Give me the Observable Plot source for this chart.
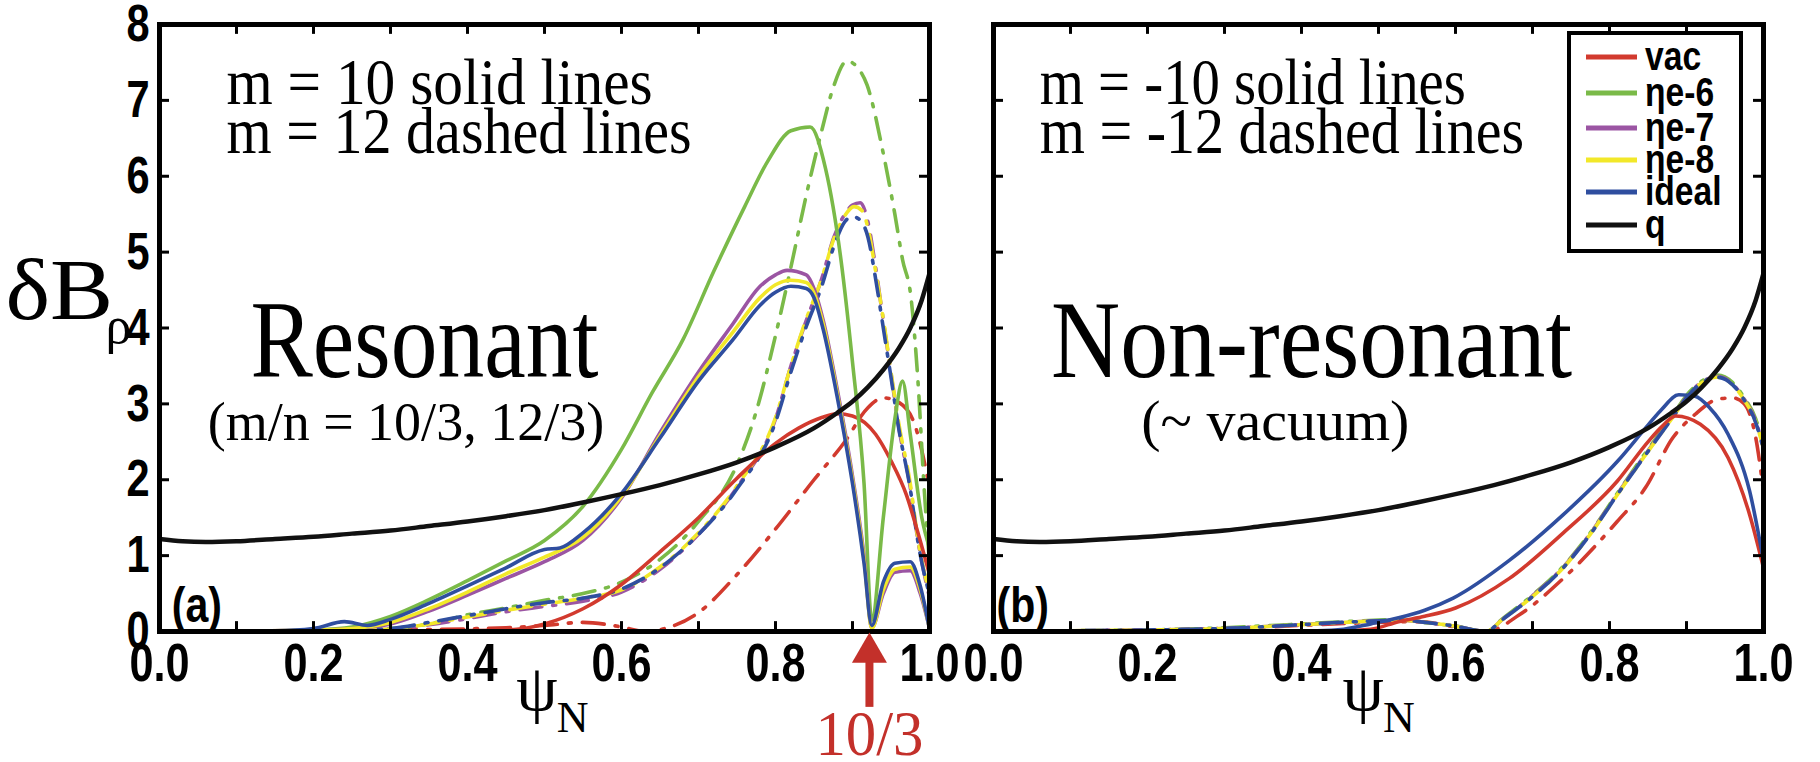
<!DOCTYPE html>
<html><head><meta charset="utf-8">
<script src="https://cdn.jsdelivr.net/npm/d3@7"></script>
<script src="https://cdn.jsdelivr.net/npm/@observablehq/plot@0.6"></script>
<style>
html,body{margin:0;padding:0;background:#fff;}
#wrap{position:relative;width:1820px;height:762px;overflow:hidden;background:#fff;}
#wrap > svg{position:absolute;top:0;}
#wrap svg{overflow:visible;}
</style></head><body><div id="wrap"></div>
<script>
// ---------- data ----------
const psiTicks = [0,0.1,0.2,0.3,0.4,0.5,0.6,0.7,0.8,0.9,1.0];
const psiLabels = [0,0.2,0.4,0.6,0.8,1.0];
const yTicks = [0,1,2,3,4,5,6,7,8];

const seriesNames = ["vac","ηe-6","ηe-7","ηe-8","ideal","q"];
const seriesColors = ["#d23a2e","#7aba48","#9b55a3","#f2e829","#2f4e9f","#111111"];

// safety factor q (same in both panels)
const qProfile = [[0,1.22],[0.03,1.19],[0.06,1.18],[0.1,1.19],[0.15,1.22],[0.2,1.25],[0.25,1.29],[0.3,1.33],[0.35,1.39],[0.4,1.45],[0.45,1.52],[0.5,1.6],[0.55,1.7],[0.6,1.81],[0.65,1.93],[0.7,2.07],[0.75,2.23],[0.8,2.43],[0.85,2.68],[0.88,2.88],[0.9,3.03],[0.92,3.22],[0.94,3.45],[0.96,3.73],[0.975,4.0],[0.99,4.37],[1.0,4.72]];

// panel (a) m = 10 solid
const aVac = [[0,0],[0.2,0.0],[0.35,0.01],[0.45,0.02],[0.5,0.1],[0.55,0.3],[0.6,0.62],[0.65,1.05],[0.7,1.5],[0.75,2.02],[0.8,2.48],[0.83,2.68],[0.86,2.82],[0.88,2.87],[0.9,2.84],[0.93,2.6],[0.95,2.25],[0.97,1.8],[0.985,1.3],[1.0,0.75]];
const aE6 = [[0,0],[0.1,0.0],[0.2,0.02],[0.25,0.06],[0.3,0.2],[0.35,0.42],[0.4,0.67],[0.45,0.93],[0.5,1.2],[0.55,1.65],[0.6,2.4],[0.64,3.15],[0.68,3.85],[0.72,4.75],[0.76,5.6],[0.79,6.2],[0.82,6.6],[0.845,6.65],[0.865,6.1],[0.885,4.9],[0.9,3.55],[0.915,1.95],[0.925,0.15],[0.94,1.5],[0.955,2.8],[0.965,3.3],[0.975,2.6],[0.99,1.5],[1.0,1.1]];
const aE7 = [[0,0],[0.2,0.02],[0.25,0.04],[0.3,0.1],[0.35,0.27],[0.4,0.48],[0.45,0.7],[0.5,0.92],[0.55,1.2],[0.6,1.76],[0.65,2.62],[0.7,3.42],[0.745,4.06],[0.78,4.55],[0.8,4.7],[0.815,4.76],[0.84,4.7],[0.85,4.52],[0.862,4.1],[0.88,3.2],[0.9,2.05],[0.915,1.0],[0.925,0.05],[0.94,0.5],[0.955,0.78],[0.975,0.8],[0.988,0.5],[1.0,0.04]];
const aE8 = [[0,0],[0.2,0.02],[0.25,0.04],[0.3,0.12],[0.35,0.3],[0.4,0.52],[0.45,0.76],[0.5,0.98],[0.55,1.24],[0.6,1.78],[0.65,2.58],[0.7,3.36],[0.745,3.95],[0.78,4.4],[0.8,4.57],[0.82,4.63],[0.84,4.6],[0.85,4.46],[0.862,4.05],[0.88,3.15],[0.9,2.0],[0.915,0.95],[0.925,0.04],[0.94,0.55],[0.955,0.82],[0.975,0.85],[0.988,0.55],[1.0,0.04]];
const aIdeal = [[0,0],[0.15,0.01],[0.2,0.04],[0.24,0.13],[0.27,0.08],[0.3,0.16],[0.35,0.37],[0.4,0.6],[0.45,0.84],[0.5,1.08],[0.52,1.1],[0.55,1.3],[0.6,1.82],[0.65,2.55],[0.7,3.3],[0.745,3.85],[0.78,4.3],[0.8,4.47],[0.82,4.55],[0.84,4.52],[0.85,4.4],[0.862,3.98],[0.88,3.1],[0.9,1.95],[0.915,0.9],[0.925,0.08],[0.94,0.65],[0.955,0.9],[0.975,0.92],[0.988,0.6],[1.0,0.03]];

// panel (a) m = 12 dashed
const aVacD = [[0,0],[0.3,0.02],[0.45,0.05],[0.5,0.08],[0.55,0.12],[0.6,0.06],[0.63,0.0],[0.66,0.05],[0.7,0.25],[0.75,0.75],[0.8,1.35],[0.85,2.0],[0.89,2.5],[0.92,2.95],[0.94,3.08],[0.96,3.02],[0.98,2.75],[1.0,1.9]];
const aE6D = [[0,0],[0.2,0.01],[0.3,0.04],[0.35,0.1],[0.4,0.22],[0.45,0.31],[0.5,0.41],[0.55,0.5],[0.6,0.65],[0.65,0.95],[0.7,1.45],[0.75,2.2],[0.775,2.9],[0.8,3.9],[0.82,4.8],[0.84,5.75],[0.86,6.6],[0.876,7.2],[0.893,7.52],[0.905,7.45],[0.919,7.2],[0.94,6.3],[0.955,5.5],[0.965,4.9],[0.976,4.4],[0.985,3.3],[0.993,1.9],[1.0,0.9]];
const aE7D = [[0,0],[0.2,0.01],[0.3,0.03],[0.35,0.09],[0.4,0.17],[0.45,0.26],[0.5,0.33],[0.55,0.4],[0.6,0.52],[0.65,0.82],[0.7,1.28],[0.75,1.9],[0.8,2.8],[0.82,3.5],[0.84,4.1],[0.86,4.65],[0.876,5.2],[0.89,5.5],[0.9,5.62],[0.91,5.65],[0.92,5.4],[0.93,4.8],[0.94,4.1],[0.95,3.4],[0.96,2.7],[0.975,1.9],[0.985,1.2],[1.0,0.45]];
const aE8D = [[0,0],[0.2,0.01],[0.3,0.03],[0.35,0.1],[0.4,0.19],[0.45,0.28],[0.5,0.36],[0.55,0.44],[0.6,0.55],[0.65,0.85],[0.7,1.3],[0.75,1.92],[0.8,2.82],[0.82,3.5],[0.84,4.12],[0.86,4.65],[0.876,5.18],[0.89,5.48],[0.902,5.6],[0.912,5.55],[0.92,5.32],[0.93,4.75],[0.94,4.12],[0.95,3.42],[0.96,2.75],[0.975,1.95],[0.985,1.22],[1.0,0.5]];
const aIdealD = [[0,0],[0.2,0.01],[0.3,0.04],[0.35,0.12],[0.4,0.21],[0.45,0.3],[0.5,0.38],[0.55,0.44],[0.6,0.56],[0.65,0.84],[0.7,1.28],[0.75,1.88],[0.8,2.76],[0.82,3.42],[0.84,4.02],[0.86,4.55],[0.876,5.08],[0.89,5.4],[0.9,5.47],[0.91,5.42],[0.92,5.2],[0.93,4.65],[0.94,4.0],[0.95,3.35],[0.96,2.68],[0.975,1.88],[0.985,1.18],[1.0,0.48]];

// panel (b) m = -10 solid
const bVac = [[0,0],[0.3,0.0],[0.45,0.01],[0.49,0.03],[0.526,0.13],[0.56,0.2],[0.6,0.31],[0.67,0.7],[0.74,1.3],[0.81,1.98],[0.85,2.5],[0.868,2.7],[0.886,2.84],[0.918,2.73],[0.954,2.29],[0.982,1.54],[1.0,0.84]];
const bIdeal = [[0,0],[0.3,0.0],[0.42,0.01],[0.455,0.03],[0.49,0.1],[0.526,0.18],[0.56,0.28],[0.597,0.44],[0.669,0.93],[0.74,1.54],[0.811,2.25],[0.85,2.72],[0.868,2.93],[0.89,3.12],[0.911,3.1],[0.93,2.95],[0.954,2.6],[0.982,1.85],[1.0,0.93]];

// panel (b) m = -12 dashed
const bVacD = [[0,0],[0.3,0.04],[0.5,0.12],[0.55,0.13],[0.6,0.06],[0.64,0.0],[0.683,0.22],[0.74,0.7],[0.81,1.45],[0.847,1.9],[0.882,2.55],[0.911,2.86],[0.94,3.06],[0.96,3.08],[0.975,3.0],[0.99,2.55],[1.0,1.85]];
const bE6D = [[0,0],[0.1,0.01],[0.2,0.02],[0.3,0.05],[0.4,0.1],[0.5,0.15],[0.53,0.16],[0.56,0.12],[0.6,0.07],[0.64,0.0],[0.66,0.16],[0.7,0.48],[0.74,0.86],[0.775,1.3],[0.81,1.82],[0.847,2.36],[0.882,2.85],[0.904,3.16],[0.92,3.3],[0.94,3.38],[0.96,3.28],[0.975,3.08],[0.99,2.8],[1.0,2.45]];
const bE7D = [[0,0],[0.1,0.01],[0.2,0.02],[0.3,0.04],[0.4,0.09],[0.5,0.14],[0.53,0.15],[0.56,0.12],[0.6,0.07],[0.64,0.0],[0.66,0.15],[0.7,0.47],[0.74,0.85],[0.775,1.29],[0.81,1.81],[0.847,2.34],[0.882,2.83],[0.904,3.14],[0.92,3.29],[0.94,3.36],[0.96,3.26],[0.975,3.06],[0.99,2.77],[1.0,2.42]];
const bE8D = [[0,0],[0.1,0.01],[0.2,0.02],[0.3,0.04],[0.4,0.09],[0.5,0.14],[0.53,0.15],[0.56,0.12],[0.6,0.07],[0.64,0.0],[0.66,0.15],[0.7,0.46],[0.74,0.84],[0.775,1.28],[0.81,1.8],[0.847,2.33],[0.882,2.82],[0.904,3.13],[0.92,3.28],[0.94,3.35],[0.96,3.25],[0.975,3.05],[0.99,2.76],[1.0,2.41]];
const bIdealD = [[0,0],[0.1,0.01],[0.2,0.02],[0.3,0.04],[0.4,0.09],[0.45,0.12],[0.5,0.14],[0.53,0.15],[0.56,0.12],[0.6,0.07],[0.625,0.02],[0.64,0.0],[0.66,0.15],[0.7,0.46],[0.74,0.84],[0.775,1.28],[0.81,1.8],[0.847,2.33],[0.882,2.82],[0.904,3.13],[0.92,3.28],[0.94,3.35],[0.96,3.25],[0.975,3.05],[0.99,2.75],[1.0,2.4]];

// annotation texts
const aNoteText = ["m = 10 solid lines","m = 12 dashed lines","Resonant","(m/n = 10/3, 12/3)","(a)"];
const bNoteText = ["m = -10 solid lines","m = -12 dashed lines","Non-resonant","(~ vacuum)","(b)"];
const resonance = {psi: 0.922, label: "10/3"};

// ---------- layout & drawing ----------
const SANS = "'Liberation Sans','Arial',sans-serif";
const SERIF = "'Liberation Serif','Times New Roman',Times,serif";
const RED = "#c3302a";
const DASH = "22,11,3,11";
const H = 762, MT = 24, MB = 131;
const wrap = document.getElementById("wrap");
const toRows = arr => arr.map(([psi, v]) => ({psi, v}));

// annotation placement (psi, value, font size, anchor, family) per text index
const aNoteLayout = [[0.087,6.95,66,"start","serif"],[0.087,6.30,66,"start","serif"],[0.344,3.36,110,"middle","serif"],[0.32,2.53,54,"middle","serif"],[0.016,0.12,50,"start","sans"]];
const bNoteLayout = [[0.06,6.95,66,"start","serif"],[0.06,6.30,66,"start","serif"],[0.413,3.36,110,"middle","serif"],[0.366,2.53,58,"middle","serif"],[0.004,0.12,50,"start","sans"]];
// horizontal squeeze factors for texts (glyphs of the original are condensed)
const squeezeRules = new Map([
  ["m = 10 solid lines", 0.9], ["m = 12 dashed lines", 0.88], ["m = -10 solid lines", 0.86], ["m = -12 dashed lines", 0.88],
  ["Resonant", 0.85], ["Non-resonant", 0.87], ["(a)", 0.82], ["(b)", 0.82], ["10/3", 0.95], ["δB", 1.1]
]);
psiLabels.forEach(d => squeezeRules.set(d.toFixed(1), 0.8));
yTicks.forEach(d => squeezeRules.set(String(d), 0.8));
seriesNames.forEach(d => squeezeRules.set(d, 0.84));

function solidLine(arr, color) {
  return Plot.line(toRows(arr), {x: "psi", y: "v", stroke: color, strokeWidth: 3.6, curve: "monotone-x"});
}
function dashLine(arr, color, offset) {
  return Plot.line(toRows(arr), {x: "psi", y: "v", stroke: color, strokeWidth: 3.6, curve: "monotone-x", strokeDasharray: DASH, strokeDashoffset: offset});
}
function noteMarks(texts, layout) {
  return texts.map((t, i) => {
    const [x, y, fs, anchor, fam] = layout[i];
    return Plot.text([t], {
      x: () => x, y: () => y, text: d => d, fontSize: fs, textAnchor: anchor, lineAnchor: "bottom",
      fontFamily: fam === "serif" ? SERIF : SANS, fontWeight: fam === "serif" ? "normal" : "bold", fill: "black"
    });
  });
}
function frameMarks(withYLabels) {
  const m = [
    Plot.ruleX(psiTicks, {x: d => d, y1: 0, y2: 0.13, stroke: "black", strokeWidth: 3}),
    Plot.ruleX(psiTicks, {x: d => d, y1: 8, y2: 7.87, stroke: "black", strokeWidth: 3}),
    Plot.ruleY(yTicks, {y: d => d, x1: 0, x2: 0.013, stroke: "black", strokeWidth: 3}),
    Plot.ruleY(yTicks, {y: d => d, x1: 1, x2: 0.987, stroke: "black", strokeWidth: 3}),
    Plot.frame({stroke: "black", strokeWidth: 5}),
    Plot.text(psiLabels, {x: d => d, y: 0, dy: 32, text: d => d.toFixed(1), fontSize: 54, fontWeight: "bold", fontFamily: SANS, lineAnchor: "middle", fill: "black"})
  ];
  if (withYLabels) m.push(Plot.text(yTicks, {x: 0, y: d => d, dx: -10, text: d => String(d), textAnchor: "end", fontSize: 52, fontWeight: "bold", fontFamily: SANS, lineAnchor: "middle", fill: "black"}));
  return m;
}
function psiLabel(cx) {
  return [
    Plot.text(["ψ"], {x: () => cx, y: () => -1.04, text: d => d, fontSize: 66, fontFamily: SERIF, textAnchor: "middle", lineAnchor: "bottom", fill: "black"}),
    Plot.text(["N"], {x: () => cx + 0.026, y: () => -1.32, text: d => d, fontSize: 44, fontFamily: SERIF, textAnchor: "start", lineAnchor: "bottom", fill: "black"})
  ];
}
function squeeze(node) {
  node.querySelectorAll("text").forEach(t => {
    const f = squeezeRules.get(t.textContent);
    if (f == null) return;
    const w = t.getComputedTextLength();
    t.setAttribute("textLength", (w * f).toFixed(1));
    t.setAttribute("lengthAdjust", "spacingAndGlyphs");
  });
}

const plotA = Plot.plot({
  width: 960, height: H, marginTop: MT, marginBottom: MB, marginLeft: 159, marginRight: 31,
  x: {domain: [0, 1], axis: null}, y: {domain: [0, 8], axis: null},
  style: {background: "transparent", overflow: "visible"},
  marks: [
    dashLine(aVacD, seriesColors[0], 0),
    dashLine(aE6D, seriesColors[1], 6),
    dashLine(aE7D, seriesColors[2], 14),
    dashLine(aE8D, seriesColors[3], 24),
    dashLine(aIdealD, seriesColors[4], 2),
    solidLine(aVac, seriesColors[0]),
    solidLine(aE6, seriesColors[1]),
    solidLine(aE7, seriesColors[2]),
    solidLine(aE8, seriesColors[3]),
    solidLine(aIdeal, seriesColors[4]),
    Plot.line(toRows(qProfile), {x: "psi", y: "v", stroke: seriesColors[5], strokeWidth: 4.5, curve: "monotone-x"}),
    ...frameMarks(true),
    ...noteMarks(aNoteText, aNoteLayout),
    ...psiLabel(0.49),
    Plot.text(["δB"], {x: () => -0.2, y: () => 4.12, text: d => d, fontSize: 86, fontFamily: SERIF, textAnchor: "start", lineAnchor: "bottom", fill: "black"}),
    Plot.text(["ρ"], {x: () => -0.07, y: () => 3.8, text: d => d, fontSize: 52, fontFamily: SERIF, textAnchor: "start", lineAnchor: "bottom", fill: "black"}),
    Plot.ruleX([resonance], {x: "psi", y1: -0.4, y2: -1.0, stroke: RED, strokeWidth: 8}),
    Plot.dot([resonance], {x: "psi", y: () => -0.28, symbol: "triangle", r: 13, fill: RED, stroke: "none"}),
    Plot.text([resonance], {x: "psi", y: () => -1.63, text: "label", fontSize: 64, fontFamily: SERIF, fill: RED, textAnchor: "middle", lineAnchor: "bottom"})
  ]
});
plotA.style.left = "0px";
wrap.appendChild(plotA);

const plotB = Plot.plot({
  width: 860, height: H, marginTop: MT, marginBottom: MB, marginLeft: 33, marginRight: 57,
  x: {domain: [0, 1], axis: null}, y: {domain: [0, 8], axis: null},
  style: {background: "transparent", overflow: "visible"},
  marks: [
    dashLine(bVacD, seriesColors[0], 0),
    dashLine(bE6D, seriesColors[1], 6),
    dashLine(bE7D, seriesColors[2], 14),
    dashLine(bE8D, seriesColors[3], 24),
    dashLine(bIdealD, seriesColors[4], 2),
    solidLine(bVac, seriesColors[0]),
    solidLine(bIdeal, seriesColors[4]),
    Plot.line(toRows(qProfile), {x: "psi", y: "v", stroke: seriesColors[5], strokeWidth: 4.5, curve: "monotone-x"}),
    ...frameMarks(false),
    ...noteMarks(bNoteText, bNoteLayout),
    ...psiLabel(0.48)
  ]
});
plotB.style.left = "960px";
wrap.appendChild(plotB);

// legend
const lg = d3.create("svg").attr("width", 176).attr("height", 222)
  .style("position", "absolute").style("left", "1567px").style("top", "31px");
lg.append("rect").attr("x", 2).attr("y", 2).attr("width", 172).attr("height", 218)
  .attr("fill", "white").attr("stroke", "black").attr("stroke-width", 4);
const rowY = [26, 62, 97, 129, 161, 194];
seriesNames.forEach((name, i) => {
  lg.append("line").attr("x1", 19).attr("x2", 70).attr("y1", rowY[i]).attr("y2", rowY[i])
    .attr("stroke", seriesColors[i]).attr("stroke-width", 5);
  lg.append("text").attr("x", 78).attr("y", rowY[i] + 13).text(name)
    .attr("font-family", SANS).attr("font-weight", "bold").attr("font-size", 40).attr("fill", "black");
});
wrap.appendChild(lg.node());

squeeze(plotA); squeeze(plotB); squeeze(lg.node());
</script>
</body></html>
